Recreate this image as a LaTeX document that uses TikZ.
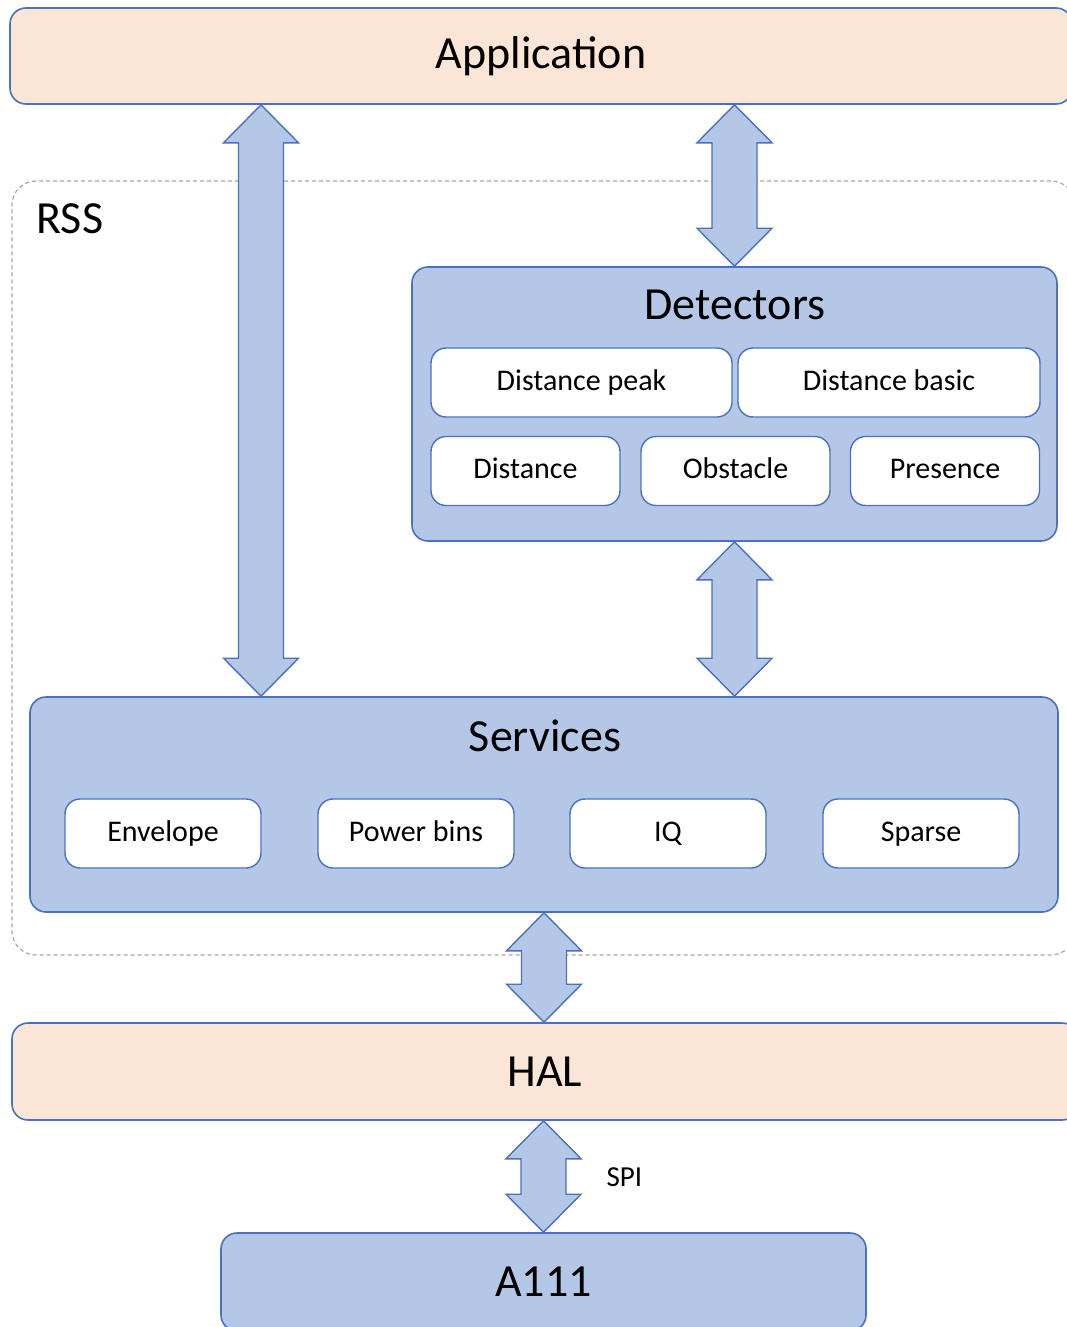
\documentclass[tikz,border=0pt]{standalone}
\usepackage{fontspec}
\setmainfont{Carlito}
\usepackage{tikz}
\usetikzlibrary{calc}

\definecolor{boxblue}{HTML}{B4C7E7}
\definecolor{lineblue}{HTML}{4A70C0}
\definecolor{peach}{HTML}{FBE5D6}
\definecolor{dashgray}{HTML}{A6A6A6}

\tikzset{
    layer/.style={draw=lineblue, line width=1.6pt, rounded corners=16pt, fill=peach, font=\fontsize{46}{50}\selectfont},
    block/.style={draw=lineblue, line width=1.6pt, rounded corners=16pt, fill=boxblue},
    item/.style={draw=lineblue, line width=1.4pt, rounded corners=15pt, fill=white, minimum height=69pt,
        text height=21pt, text depth=6pt, font=\fontsize{30}{34}\selectfont},
    title/.style={font=\fontsize{46}{50}\selectfont},
    blockarrow/.style={draw=lineblue, line width=1.4pt, fill=boxblue, line join=miter}
}

% double block arrow from #1 (top) to #2 (bottom)
\newcommand{\dblarrow}[2]{%
    \draw[blockarrow] (#1) -- ($(#1)+(37.5,38)$) -- ($(#1)+(22.5,38)$)
        -- ($(#2)+(22.5,-38)$) -- ($(#2)+(37.5,-38)$) -- (#2)
        -- ($(#2)+(-37.5,-38)$) -- ($(#2)+(-22.5,-38)$)
        -- ($(#1)+(-22.5,38)$) -- ($(#1)+(-37.5,38)$) -- cycle;}

\begin{document}
\begin{tikzpicture}[x=1pt,y=-1pt]
    \useasboundingbox (0,0) rectangle (1067,1327);
    \clip (0,0) rectangle (1067,1327);

    % RSS frame
    \node (rss) [draw=dashgray, line width=1.2pt, dash pattern=on 4pt off 3pt, rounded corners=24pt,
        minimum width=1063pt, minimum height=774pt] at (543.5,568) {};
    \node (rsslabel) [title, anchor=west] at (33,219) {RSS};

    % Layers
    \node (app) [layer, minimum width=1062pt, minimum height=96pt] at (541,56) {Application};
    \node (hal) [layer, minimum width=1066pt, minimum height=97pt] at (545,1071.5) {HAL};
    \node (a111) [block, title, minimum width=645pt, minimum height=98pt] at (543.5,1282) {A111};

    % Detectors
    \node (det) [block, minimum width=645pt, minimum height=274pt] at (734.5,404) {};
    \node (dettitle) [title] at (735,305) {Detectors};
    \node (dpeak) [item, minimum width=301pt] at (581.5,382.5) {Distance peak};
    \node (dbasic) [item, minimum width=302pt] at (889,382.5) {Distance basic};
    \node (dist) [item, minimum width=189pt] at (525.5,471) {Distance};
    \node (obst) [item, minimum width=189pt] at (735.5,471) {Obstacle};
    \node (pres) [item, minimum width=189pt] at (945,471) {Presence};

    % Services
    \node (serv) [block, minimum width=1028pt, minimum height=215pt] at (544,804.5) {};
    \node (servtitle) [title] at (545,736) {Services};
    \node (env) [item, minimum width=196pt] at (163,833.5) {Envelope};
    \node (pbins) [item, minimum width=196pt] at (416,833.5) {Power bins};
    \node (iq) [item, minimum width=196pt] at (668,833.5) {IQ};
    \node (sparse) [item, minimum width=196pt] at (921,833.5) {Sparse};

    % Arrows
    \coordinate (ax) at (261,0);
    \dblarrow{app.south -| ax}{serv.north -| ax}
    \dblarrow{app.south -| det.north}{det.north}
    \dblarrow{det.south}{serv.north -| det.south}
    \dblarrow{serv.south}{hal.north -| serv.south}
    \dblarrow{hal.south -| a111.north}{a111.north}
    \node (spi) [font=\fontsize{29}{32}\selectfont, anchor=west] at (603,1177) {SPI};
\end{tikzpicture}
\end{document}
